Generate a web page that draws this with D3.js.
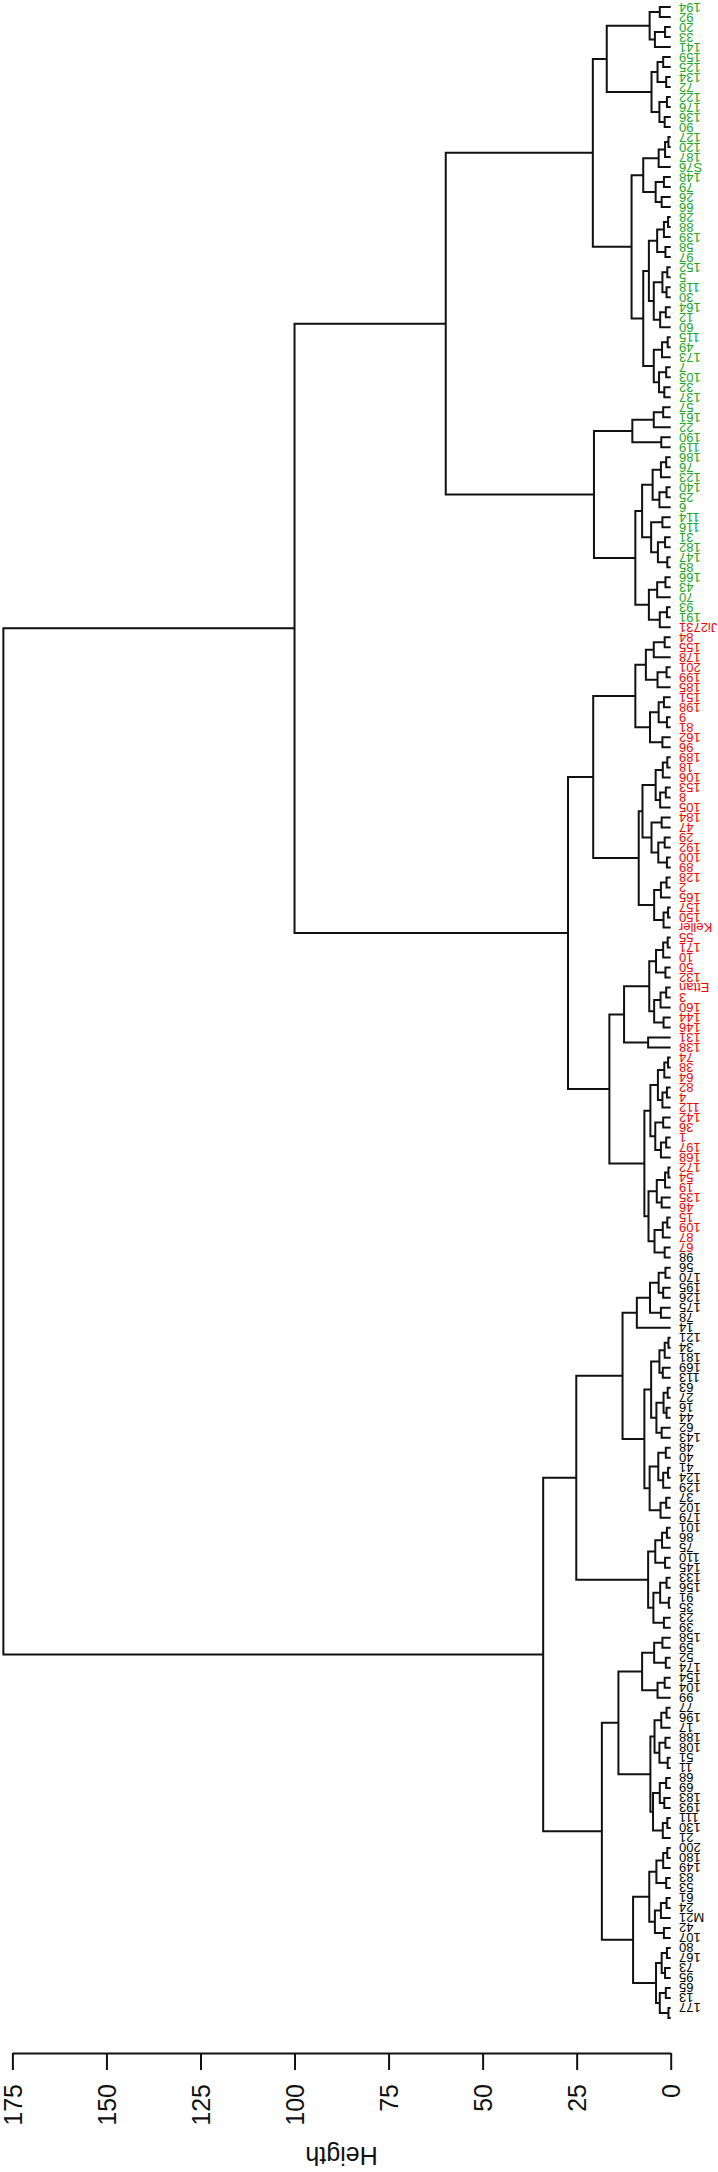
<!DOCTYPE html>
<html>
  <head>
    <meta charset="utf-8" />
    <script src="https://d3js.org/d3.v7.min.js"></script>
    <style>
      body { margin: 0; background: #fff; }
      text { font-family: "Liberation Sans", Arial, sans-serif; }
    </style>
  </head>
  <body>
    <svg id="viz"></svg>
    <script>
      var width = 718;
      var height = 2172;

      // leaf labels, top to bottom of the picture
      var leafLabels = [
        "194","92","20","33","141",
        "159","125","134","72","122","176","136","90",
        "127","120","187","S76","148","79","26","66",
        "28","88","139","58","97","152","5","118","30","164","12","60","115","49","173","7","103","32","137",
        "57","161","22","190","119",
        "186","76","123","140","25","6","114","116","31","182","147",
        "85","166","43","70","93","191",
        "Ji2731","84","155","178","201","199","185","151","198","9","81","162",
        "96","189","18","106","153","8","105","184","47","29","192","100",
        "89","128","2","165","157","150",
        "Keller","55","171","10","50","132","Ettan","3","160","144",
        "146","131",
        "138","74","38","64","82","4","112","142","36","1","197","168","172","54","19","135","46","15","109","87","67",
        "98","56","170","195","126","175","78",
        "14","121","34","181","169","113","63","27","16","44","62","143","48","40","41","124","129","37","102",
        "179","101","86","75","110","145","133","156","91","35","23",
        "39","158","59","52","174","154","104",
        "99","77","196","17","188","108","51","11","68","69","183","193","111","130",
        "21","200","180","149","83","53","61","24","M21","42",
        "107","80","167","73","95","65","13","177"
      ];

      // leaves per colour group, top to bottom
      var groupSizes = [62, 63, 76];
      var groupColors = ["#22a527", "#ff0000", "#000000"];

      // merges: [height, upper, lower]; 0 = a leaf
      var green1 = [20.7,
        [17, [5.6, [2.9,0,0], [4.2,[1.5,0,0],0]],
             [5.1, [3.5,[2.0,0,0],[1.2,0,0]], [3.0,[1.0,0,0],[1.6,0,0]]]],
        [10.4, [7.3, [3.2,[1.5,[0.6,0,0],0],0], [4.0,[1.8,0,0],[2.4,0,0]]],
               [7.3, [5.8, [3.6,[1.8,[0.7,0,0],0],[1.4,0,0]], [4.5,[2.2,[0.9,0,0],[1.1,0,0]],[2.8,[1.3,0,0],0]]],
                     [4.5, [2.3,[0.8,0,0],0], [3.1,[1.2,0,0],[1.7,0,0]]]]]];

      var green2 = [20.4,
        [10.2, [4.5,[2.0,0,0],0], [2.5,0,0]],
        [9.4, [7.6, [4.8,[2.6,[1.2,0,0],0],[3.0,[1.1,0,0],0]], [5.2,[2.2,0,0],[3.4,[1.5,0,0],[0.9,0,0]]]],
              [5.8, [3.6,[1.4,0,0],0], [2.9,[1.0,0,0],0]]]];

      var red1 = [20.6,
        [9.4, [6.6,[4.5,[1.6,0,0],0],[3.5,[1.1,0,0],0]], [5.5,[3.2,[1.8,0,0],[1.0,0,0]],[2.2,0,0]]],
        [8.5, [7.5, [4.0,[2.1,[0.9,0,0],0],[2.8,[1.3,0,0],0]], [5.1,[2.4,0,0],[3.3,[1.6,0,0],[1.0,0,0]]]],
              [4.4, [2.6,[1.1,0,0],0], [1.9,[0.7,0,0],0]]]];

      var red2 = [16.3,
        [12.4, [5.7, [3.9,[2.0,[0.8,0,0],0],[1.4,0,0]], [4.4,[2.7,[1.2,0,0],0],[1.9,0,0]]],
               [6.0,0,0]],
        [7.0, [5.4, [3.4,[1.7,[0.7,0,0],0],[2.2,[1.0,0,0],0]], [4.1,[2.0,0,0],[2.6,[1.2,0,0],0]]],
              [5.9, [3.7,[1.5,[0.6,0,0],0],[2.4,0,0]], [4.3,[2.1,[0.9,0,0],0],[1.6,0,0]]]]];

      var black1 = [25.1,
        [12.8, [9.0, [5.5,[3.2,[1.4,0,0],[2.0,0,0]],[2.6,0,0]], 0],
               [7.0, [5.2,[3.0,[1.6,[0.6,0,0],0],[2.1,0,0]],[3.8,[1.9,[0.8,0,0],[1.1,0,0]],[2.4,0,0]]],
                     [5.6,[3.3,[1.3,0,0],[2.0,[0.7,0,0],0]],[2.7,[1.2,0,0],0]]]],
        [6.0, [4.1,[2.3,[1.0,0,0],0],[1.5,0,0]], [4.6,[2.8,[1.1,0,0],[0.5,0,0]],[1.8,0,0]]]];

      var black2 = [18.3,
        [13.9, [7.6, [4.4,[2.2,0,0],[1.3,0,0]], [3.5,[1.6,0,0],0]],
               [5.4, [4.3,[2.5,[1.1,0,0],0],[3.0,[1.4,0,0],[0.8,0,0]]], [4.7,[2.9,[1.2,0,0],[1.7,0,0]],[2.1,[0.9,0,0],0]]]],
        [10.0, [5.7, [3.8,[2.0,[0.9,0,0],0],[1.2,0,0]], [4.2,[2.6,[1.1,0,0],0],[1.8,0,0]]],
               [3.9, [2.4,[1.0,0,0],[1.5,0,0]], [2.9,[1.3,0,0],[0.6,0,0]]]]];

      var topMerges = [177.4, [100, [59.8, green1, green2], [27.3, red1, red2]], [33.9, black1, black2]];

      var heightTicks = [0, 25, 50, 75, 100, 125, 150, 175];
      var axisTitle = "Heigth";

      function build(n) {
        if (n === 0) return { h: 0 };
        return { h: n[0], children: [build(n[1]), build(n[2])] };
      }

      var root = d3.hierarchy(build(topMerges));
      var leaves = root.leaves();

      var x = d3.scaleLinear().domain([0, 175]).range([670.7, 12.4]);
      var y = d3.scaleLinear().domain([0, leaves.length - 1]).range([7, 2018]);

      leaves.forEach(function(d, i) {
        d.pos = y(i);
        d.label = leafLabels[i];
      });
      root.eachAfter(function(d) {
        if (d.children) d.pos = (d.children[0].pos + d.children[1].pos) / 2;
      });

      var bounds = [];
      var acc = 0;
      groupSizes.forEach(function(s) { acc += s; bounds.push(acc); });
      var colorOf = d3.scaleThreshold().domain(bounds).range(groupColors.concat(["#000"]));

      var svg = d3.select("#viz").attr("width", width).attr("height", height);

      svg.append("g").selectAll("path")
        .data(root.descendants().filter(function(d) { return d.children; }))
        .enter().append("path")
        .attr("fill", "none")
        .attr("stroke", "#111")
        .attr("stroke-width", 2)
        .attr("d", function(d) {
          var a = d.children[0], b = d.children[1];
          return "M" + x(a.data.h) + "," + a.pos +
                 "H" + x(d.data.h) +
                 "V" + b.pos +
                 "H" + x(b.data.h);
        });

      svg.append("g").selectAll("text")
        .data(leaves)
        .enter().append("text")
        .attr("transform", function(d) { return "translate(679," + d.pos + ") rotate(180)"; })
        .attr("text-anchor", "end")
        .attr("dominant-baseline", "central")
        .attr("font-size", 13)
        .attr("fill", function(d, i) { return colorOf(i); })
        .text(function(d) { return d.label; });

      var axis = d3.axisBottom(x)
        .tickValues(heightTicks)
        .tickSize(17)
        .tickSizeOuter(0);

      var gAxis = svg.append("g")
        .attr("transform", "translate(0,2053)")
        .call(axis);
      gAxis.select(".domain").attr("stroke", "#111").attr("stroke-width", 2);
      gAxis.selectAll(".tick line").attr("stroke", "#111").attr("stroke-width", 2);
      gAxis.selectAll(".tick text")
        .attr("transform", "rotate(-90)")
        .attr("x", -31)
        .attr("y", 0)
        .attr("dy", null)
        .attr("text-anchor", "end")
        .attr("dominant-baseline", "central")
        .attr("font-size", 25)
        .attr("font-family", "Liberation Sans, Arial, sans-serif")
        .attr("fill", "#111");

      svg.append("text")
        .attr("transform", "translate(" + ((x(0) + x(175)) / 2) + ",2156) rotate(180)")
        .attr("text-anchor", "middle")
        .attr("dominant-baseline", "central")
        .attr("font-size", 25)
        .attr("fill", "#111")
        .text(axisTitle);
    </script>
  </body>
</html>
